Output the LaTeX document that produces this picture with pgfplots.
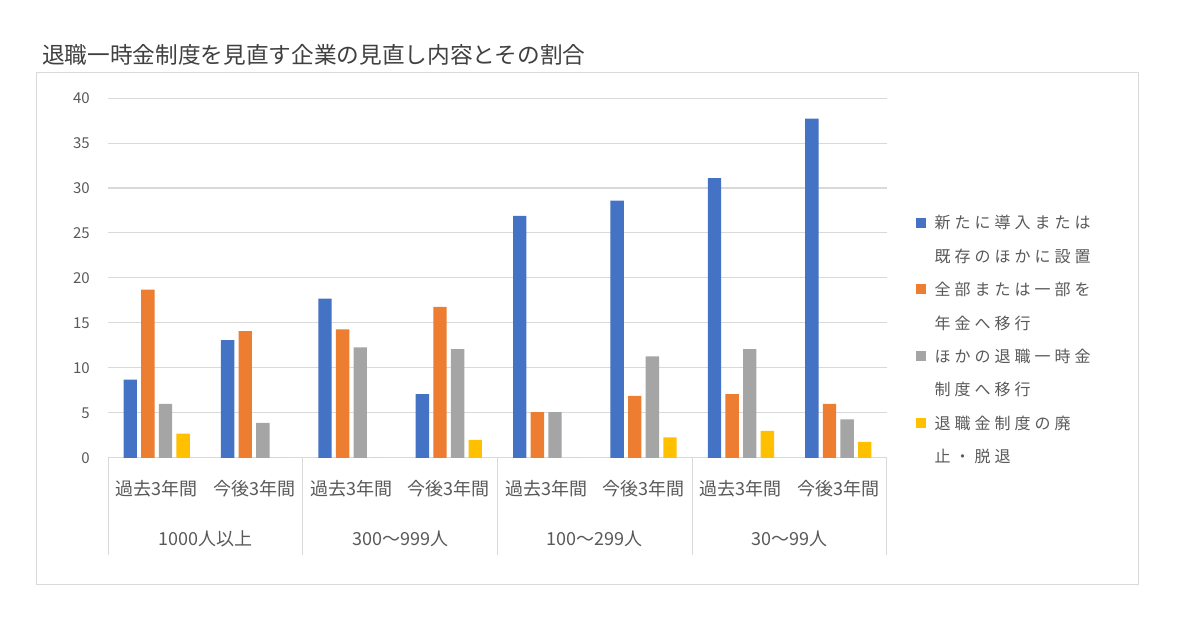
\documentclass[border=0pt]{standalone}
\usepackage{fontspec}
\setmainfont{Noto Sans CJK JP}
\newfontfamily\legfont[LetterSpace=25]{Noto Sans CJK JP}
\usepackage{pgfplots}
\pgfplotsset{compat=1.18}

\definecolor{cblue}{HTML}{4472C4}
\definecolor{corange}{HTML}{ED7D31}
\definecolor{cgray}{HTML}{A5A5A5}
\definecolor{cyellow}{HTML}{FFC000}
\definecolor{gridgray}{HTML}{D9D9D9}
\definecolor{txtgray}{HTML}{595959}
\definecolor{titlegray}{HTML}{404040}

% one legend line, with a strut of the reference's line pitch
\newcommand{\legline}[1]{\rule[-7.56pt]{0pt}{25.2pt}#1}

\pgfplotsset{
  sqleg/.style={legend image code/.code={%
      \fill[##1,draw=none] (0pt,0.85pt) rectangle (7.5pt,8.35pt);
      \path[draw=none,fill=none] (0pt,0pt) -- (12pt,0pt);}},
  noleg/.style={legend image code/.code={\path[draw=none,fill=none] (0pt,0pt) -- (12pt,0pt);}},
}

\begin{document}
\begin{tikzpicture}
\useasboundingbox (0,0) rectangle (900pt,479.25pt);
\draw[gridgray, line width=0.75pt] (27pt,40.5pt) rectangle (853.5pt,424.5pt);
\node[anchor=base west, inner sep=0pt, font=\fontsize{17}{20}\selectfont, text=titlegray]
  at (31.5pt,431.55pt) {退職一時金制度を見直す企業の見直し内容とその割合};

\begin{axis}[
  at={(81pt,135.75pt)}, anchor=south west,
  scale only axis, width=584.25pt, height=270pt,
  ybar=3.2pt, bar width=10pt,
  xmin=-0.5, xmax=7.5, ymin=0, ymax=40,
  xtick={0,...,7},
  xticklabels={過去3年間,今後3年間,過去3年間,今後3年間,過去3年間,今後3年間,過去3年間,今後3年間},
  extra x ticks={0.5,2.5,4.5,6.5},
  extra x tick labels={1000人以上,300〜999人,100〜299人,30〜99人},
  extra x tick style={xticklabel style={yshift=-37.8pt}},
  ytick={0,5,...,40},
  ymajorgrids, grid style={gridgray, line width=0.75pt},
  axis line style={draw=none},
  major tick length=0pt, tick style={draw=none},
  xticklabel style={anchor=base, yshift=-28.1pt, inner sep=0pt,
    font=\fontsize{13.5}{16}\selectfont, text=txtgray},
  yticklabel style={anchor=east, xshift=-13.5pt, inner sep=0pt,
    font=\fontsize{11.25}{14}\selectfont, text=txtgray},
  /pgf/number format/assume math mode=true,
  clip=false,
  legend style={at={(1.0372,0.7098)}, anchor=north west, draw=none, fill=none,
    inner sep=0pt, outer sep=0pt, row sep=1.95pt, column sep=0pt,
    font=\legfont\fontsize{12}{14}\selectfont, text=txtgray,
    cells={anchor=base west, inner sep=0pt}},
]
% 新たに導入または既存のほかに設置
\addplot[fill=cblue, draw=none, sqleg] coordinates {
  (0,8.7) (1,13.1) (2,17.7) (3,7.1) (4,26.9) (5,28.6) (6,31.1) (7,37.7)};
\addlegendentry{\legline{新たに導入または}}
\addlegendimage{noleg}
\addlegendentry{\legline{既存のほかに設置}}
% 全部または一部を年金へ移行
\addplot[fill=corange, draw=none, sqleg] coordinates {
  (0,18.7) (1,14.1) (2,14.3) (3,16.8) (4,5.1) (5,6.9) (6,7.1) (7,6.0)};
\addlegendentry{\legline{全部または一部を}}
\addlegendimage{noleg}
\addlegendentry{\legline{年金へ移行}}
% ほかの退職一時金制度へ移行
\addplot[fill=cgray, draw=none, sqleg] coordinates {
  (0,6.0) (1,3.9) (2,12.3) (3,12.1) (4,5.1) (5,11.3) (6,12.1) (7,4.3)};
\addlegendentry{\legline{ほかの退職一時金}}
\addlegendimage{noleg}
\addlegendentry{\legline{制度へ移行}}
% 退職金制度の廃止・脱退
\addplot[fill=cyellow, draw=none, sqleg] coordinates {
  (0,2.7) (1,0) (2,0) (3,2.0) (4,0) (5,2.3) (6,3.0) (7,1.8)};
\addlegendentry{\legline{退職金制度の廃}}
\addlegendimage{noleg}
\addlegendentry{\legline{止・脱退}}

\pgfplotsinvokeforeach{-0.5,1.5,3.5,5.5,7.5}{
  \draw[gridgray, line width=0.75pt] (axis cs:#1,0) -- ++(0pt,-72.75pt);
}
\end{axis}
\end{tikzpicture}
\end{document}
